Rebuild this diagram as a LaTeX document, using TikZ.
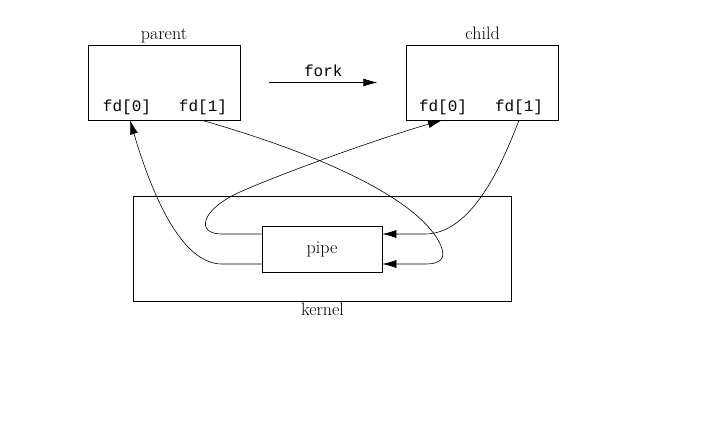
\documentclass[tikz,border=0pt]{standalone}
\usepackage{fontspec}
\setmonofont{Liberation Mono}
\usetikzlibrary{arrows.meta, positioning}
\tikzstyle{process} = [rectangle, draw=black, line width=0.6pt, minimum width=152pt, minimum height=75pt]
\tikzstyle{kernelbox} = [rectangle, draw=black, line width=0.6pt, minimum width=378pt, minimum height=105pt]
\tikzstyle{pipebox} = [rectangle, draw=black, fill=white, line width=0.6pt, minimum width=120pt, minimum height=46pt, font=\fontsize{18}{21}\selectfont]
\tikzstyle{title} = [font=\fontsize{18}{21}\selectfont, inner sep=2pt, text height=12pt, text depth=4pt]
\tikzstyle{fdlabel} = [font=\fontsize{16}{19}\selectfont\ttfamily, inner sep=1pt]
\tikzstyle{arrow} = [line width=0.6pt, -{Latex[length=14pt,width=8pt]}]

\begin{document}
\begin{tikzpicture}[x=1pt, y=-1pt]
\useasboundingbox (0,0) rectangle (719,422);
% Nodes
\node (parent) [process] at (164,82.5) {};
\node (child) [process, right=166pt of parent] {};
\node (parenttitle) [title, above=-1pt of parent] {parent};
\node (childtitle) [title, above=-1pt of child] {child};
\node (pfd0) [fdlabel] at (127,107) {fd[0]};
\node (pfd1) [fdlabel] at (203,107) {fd[1]};
\node (cfd0) [fdlabel] at (443,107) {fd[0]};
\node (cfd1) [fdlabel] at (519,107) {fd[1]};
\node (kernel) [kernelbox] at (322.5,249) {};
\node (kerneltitle) [title, below=-1pt of kernel] {kernel};
\node (pipe) [pipebox] at (322,249) {pipe};
\coordinate (forkstart) at ([xshift=29pt]parent.east);
\coordinate (forkend) at ([xshift=-29pt]child.west);

% Arrows
\draw [arrow] (forkstart) -- node[fdlabel, above=5pt] {fork} (forkend);
\draw [arrow] ([yshift=-15pt]pipe.west) -- ++(-40,0)
  .. controls +(-37,0) and (155,205) .. ([xshift=3pt]pfd0 |- parent.south);
\draw [arrow] ([yshift=15pt]pipe.west) -- ++(-40,0)
  .. controls +(-26,0) and (200,210) .. (240,192)
  .. controls (280,174) and (380,138) .. ([xshift=-1pt]cfd0 |- child.south);
\draw [arrow] (cfd1 |- child.south)
  .. controls +(-17,44) and (472,234) .. (425,234) -- ([yshift=15pt]pipe.east);
\draw [arrow] ([xshift=-1pt]pfd1 |- parent.south)
  .. controls (330,157) and (415,200) .. (438,240)
  .. controls (447,256) and (444,264) .. (425,264) -- ([yshift=-15pt]pipe.east);
\end{tikzpicture}
\end{document}
